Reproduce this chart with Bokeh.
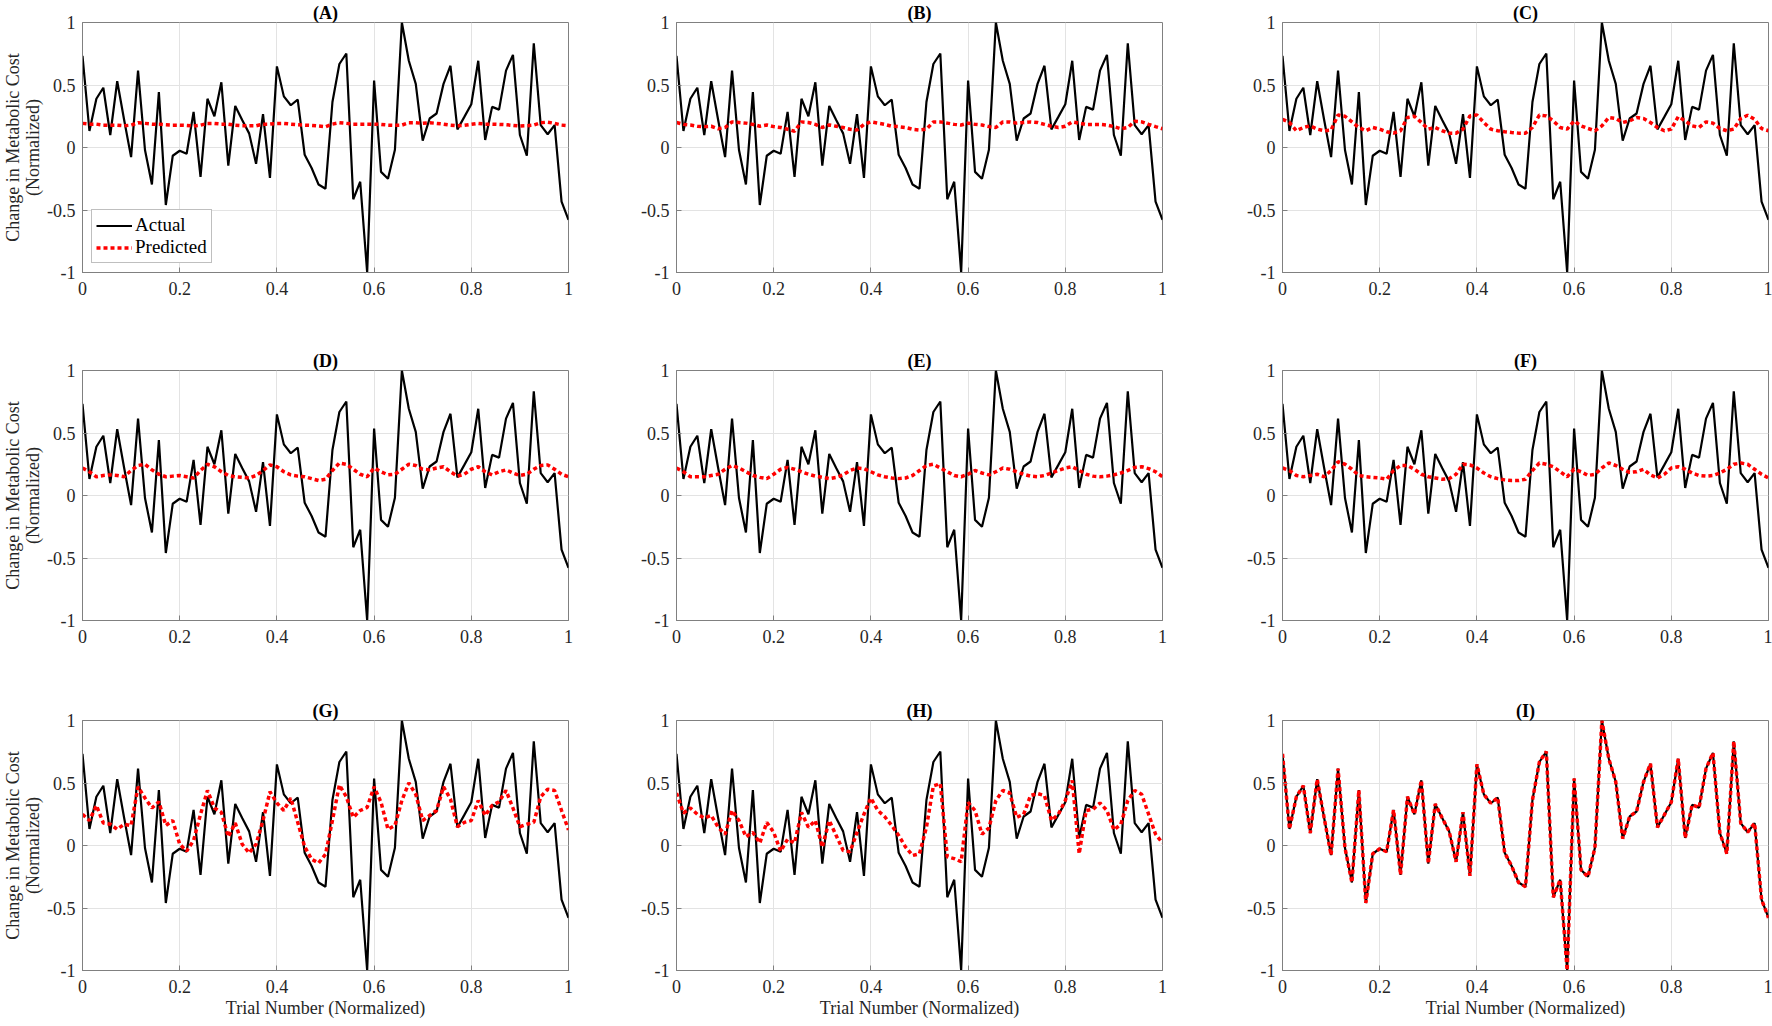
from bokeh.plotting import figure
from bokeh.layouts import row, column
from bokeh.models import FixedTicker, Legend, LegendItem, Range1d, ColumnDataSource
from bokeh.embed import file_html
from bokeh.resources import INLINE

# ---------------- data ----------------
trial_number = list(range(1, 72))

actual = [
    0.733, 0.132, 0.39, 0.478, 0.10, 0.53, 0.22, -0.077, 0.615, -0.02,
    -0.296, 0.443, -0.46, -0.066, -0.026, -0.05, 0.285, -0.235, 0.39, 0.25,
    0.522, -0.145, 0.332, 0.22, 0.113, -0.13, 0.267, -0.243, 0.649, 0.409,
    0.338, 0.383, -0.058, -0.164, -0.296, -0.33, 0.364, 0.668, 0.752, -0.414,
    -0.274, -1.0, 0.536, -0.195, -0.25, -0.018, 1.0, 0.694, 0.509, 0.055,
    0.232, 0.272, 0.509, 0.654, 0.145, 0.245, 0.346, 0.694, 0.06, 0.325,
    0.303, 0.615, 0.741, 0.10, -0.066, 0.834, 0.179, 0.106, 0.179, -0.433,
    -0.578,
]

pred_A = [
    0.193, 0.187, 0.187, 0.179, 0.179, 0.179, 0.174, 0.179, 0.198, 0.193,
    0.187, 0.187, 0.182, 0.179, 0.179, 0.177, 0.172, 0.179, 0.193, 0.193,
    0.187, 0.187, 0.179, 0.174, 0.174, 0.174, 0.187, 0.187, 0.193, 0.193,
    0.187, 0.182, 0.179, 0.177, 0.172, 0.166, 0.187, 0.198, 0.193, 0.187,
    0.187, 0.187, 0.187, 0.185, 0.179, 0.177, 0.179, 0.198, 0.198, 0.193,
    0.198, 0.193, 0.187, 0.179, 0.174, 0.177, 0.185, 0.193, 0.187, 0.187,
    0.185, 0.182, 0.177, 0.172, 0.174, 0.179, 0.198, 0.203, 0.193, 0.179,
    0.174,
]

pred_B = [
    0.20, 0.185, 0.18, 0.17, 0.167, 0.17, 0.15, 0.16, 0.205, 0.20,
    0.195, 0.185, 0.17, 0.18, 0.167, 0.16, 0.146, 0.13, 0.205, 0.20,
    0.185, 0.16, 0.18, 0.17, 0.16, 0.146, 0.14, 0.185, 0.205, 0.195,
    0.185, 0.17, 0.167, 0.16, 0.146, 0.14, 0.146, 0.205, 0.205, 0.195,
    0.185, 0.18, 0.195, 0.185, 0.18, 0.167, 0.16, 0.205, 0.205, 0.195,
    0.20, 0.205, 0.20, 0.185, 0.17, 0.16, 0.17, 0.205, 0.195, 0.185,
    0.185, 0.185, 0.18, 0.167, 0.15, 0.16, 0.21, 0.205, 0.185, 0.167,
    0.15,
]

pred_C = [
    0.226, 0.20, 0.134, 0.16, 0.173, 0.147, 0.134, 0.14, 0.26, 0.25,
    0.205, 0.16, 0.134, 0.16, 0.147, 0.126, 0.115, 0.134, 0.24, 0.25,
    0.20, 0.147, 0.16, 0.134, 0.115, 0.115, 0.147, 0.253, 0.26, 0.20,
    0.147, 0.134, 0.126, 0.12, 0.115, 0.115, 0.16, 0.26, 0.253, 0.213,
    0.16, 0.147, 0.213, 0.173, 0.152, 0.134, 0.173, 0.24, 0.232, 0.20,
    0.213, 0.24, 0.232, 0.20, 0.16, 0.134, 0.147, 0.247, 0.213, 0.173,
    0.16, 0.205, 0.195, 0.152, 0.134, 0.147, 0.232, 0.258, 0.226, 0.152,
    0.134,
]

pred_D = [
    0.22, 0.19, 0.15, 0.16, 0.165, 0.16, 0.15, 0.20, 0.24, 0.25,
    0.205, 0.17, 0.15, 0.155, 0.16, 0.15, 0.14, 0.20, 0.25, 0.23,
    0.19, 0.16, 0.15, 0.145, 0.14, 0.16, 0.20, 0.245, 0.23, 0.19,
    0.165, 0.155, 0.15, 0.135, 0.12, 0.13, 0.20, 0.26, 0.25, 0.21,
    0.17, 0.15, 0.22, 0.19, 0.165, 0.17, 0.21, 0.25, 0.24, 0.21,
    0.205, 0.22, 0.23, 0.19, 0.155, 0.17, 0.21, 0.23, 0.19, 0.165,
    0.19, 0.205, 0.18, 0.16, 0.17, 0.21, 0.24, 0.245, 0.21, 0.17,
    0.15,
]

pred_E = [
    0.22, 0.19, 0.15, 0.15, 0.15, 0.16, 0.17, 0.21, 0.24, 0.22,
    0.19, 0.16, 0.145, 0.135, 0.17, 0.21, 0.225, 0.21, 0.19, 0.17,
    0.155, 0.145, 0.135, 0.145, 0.165, 0.20, 0.22, 0.215, 0.19, 0.165,
    0.15, 0.14, 0.135, 0.14, 0.16, 0.20, 0.24, 0.25, 0.22, 0.19,
    0.16, 0.15, 0.17, 0.20, 0.18, 0.165, 0.19, 0.22, 0.21, 0.19,
    0.17, 0.155, 0.15, 0.16, 0.18, 0.20, 0.22, 0.23, 0.20, 0.17,
    0.155, 0.15, 0.155, 0.165, 0.18, 0.20, 0.225, 0.23, 0.215, 0.19,
    0.15,
]

pred_F = [
    0.22, 0.20, 0.16, 0.15, 0.16, 0.17, 0.15, 0.20, 0.27, 0.25,
    0.21, 0.16, 0.15, 0.145, 0.14, 0.13, 0.20, 0.24, 0.24, 0.21,
    0.17, 0.15, 0.14, 0.13, 0.135, 0.17, 0.25, 0.245, 0.22, 0.18,
    0.15, 0.135, 0.125, 0.12, 0.12, 0.13, 0.20, 0.26, 0.25, 0.23,
    0.19, 0.15, 0.21, 0.19, 0.16, 0.17, 0.22, 0.26, 0.24, 0.21,
    0.185, 0.19, 0.21, 0.165, 0.14, 0.17, 0.22, 0.23, 0.21, 0.18,
    0.16, 0.155, 0.16, 0.18, 0.21, 0.25, 0.26, 0.25, 0.21, 0.17,
    0.14,
]

pred_G = [
    0.25, 0.20, 0.32, 0.18, 0.17, 0.13, 0.17, 0.16, 0.47, 0.38,
    0.30, 0.35, 0.16, 0.20, 0.01, -0.045, 0.04, 0.25, 0.44, 0.30,
    0.265, 0.07, 0.18, 0.01, -0.06, 0.01, 0.20, 0.43, 0.34, 0.28,
    0.38, 0.185, -0.01, -0.11, -0.14, -0.07, 0.20, 0.485, 0.39, 0.225,
    0.28, 0.305, 0.47, 0.345, 0.13, 0.16, 0.36, 0.50, 0.41, 0.20,
    0.24, 0.28, 0.47, 0.37, 0.15, 0.185, 0.20, 0.36, 0.24, 0.32,
    0.35, 0.44, 0.30, 0.15, 0.17, 0.185, 0.39, 0.45, 0.44, 0.28,
    0.125,
]

pred_H = [
    0.42, 0.26, 0.30, 0.25, 0.22, 0.24, 0.146, 0.09, 0.28, 0.20,
    0.07, 0.105, 0.02, 0.185, 0.105, -0.045, 0.05, 0.02, 0.265, 0.146,
    0.20, -0.013, 0.20, 0.08, -0.04, -0.05, 0.105, 0.25, 0.38, 0.28,
    0.23, 0.16, 0.08, -0.013, -0.08, -0.066, 0.146, 0.477, 0.495, -0.09,
    -0.105, -0.13, 0.345, 0.28, 0.09, 0.14, 0.36, 0.44, 0.42, 0.225,
    0.25, 0.40, 0.415, 0.40, 0.20, 0.25, 0.36, 0.52, -0.066, 0.28,
    0.29, 0.34, 0.28, 0.125, 0.17, 0.36, 0.44, 0.41, 0.25, 0.09,
    0.02,
]

pred_I = [
    0.733, 0.132, 0.39, 0.478, 0.10, 0.53, 0.22, -0.077, 0.615, -0.02,
    -0.296, 0.443, -0.46, -0.066, -0.026, -0.05, 0.285, -0.235, 0.39, 0.25,
    0.522, -0.145, 0.332, 0.22, 0.113, -0.13, 0.267, -0.243, 0.649, 0.409,
    0.338, 0.383, -0.058, -0.164, -0.296, -0.33, 0.364, 0.668, 0.752, -0.414,
    -0.274, -1.0, 0.536, -0.195, -0.25, -0.018, 1.0, 0.694, 0.509, 0.055,
    0.232, 0.272, 0.509, 0.654, 0.145, 0.245, 0.346, 0.694, 0.06, 0.325,
    0.303, 0.615, 0.741, 0.10, -0.066, 0.834, 0.179, 0.106, 0.179, -0.433,
    -0.578,
]

panel_titles = ["(A)", "(B)", "(C)", "(D)", "(E)", "(F)", "(G)", "(H)", "(I)"]
x_ticks = [0, 0.2, 0.4, 0.6, 0.8, 1]
x_tick_labels = ["0", "0.2", "0.4", "0.6", "0.8", "1"]
y_ticks = [-1, -0.5, 0, 0.5, 1]
y_tick_labels = ["-1", "-0.5", "0", "0.5", "1"]
x_axis_title = "Trial Number (Normalized)"
y_axis_title = "Change in Metabolic Cost\n(Normalized)"
legend_labels = ["Actual", "Predicted"]

predictions = [pred_A, pred_B, pred_C, pred_D, pred_E, pred_F, pred_G, pred_H, pred_I]

# normalized trial number (0..1)
x_norm = [(t - trial_number[0]) / (trial_number[-1] - trial_number[0]) for t in trial_number]

# ---------------- styling ----------------
FONT = "Liberation Serif"
GREY = "#808080"
GRID = "#e3e3e3"
FW, FH = 486, 250
LEFT = [80, 60, 60]
RIGHT = [48, 60, 4]
TOP = [21, 21, 21]
BOTTOM = [76, 78, 53]


def make_panel(k):
    r, c = divmod(k, 3)
    p = figure(
        frame_width=FW, frame_height=FH,
        x_range=Range1d(0, 1), y_range=Range1d(-1, 1),
        output_backend="svg", toolbar_location=None,
        min_border_left=LEFT[c], min_border_right=RIGHT[c],
        min_border_top=TOP[r], min_border_bottom=BOTTOM[r],
        background_fill_color="white", border_fill_color="white",
        outline_line_color=GREY, outline_line_width=1,
    )
    p.title.text = panel_titles[k]
    p.title.align = "center"
    p.title.text_font = FONT
    p.title.text_font_size = "18px"
    p.title.text_font_style = "bold"
    p.title.text_color = "black"
    p.title.standoff = 0

    p.xaxis.ticker = FixedTicker(ticks=x_ticks)
    p.yaxis.ticker = FixedTicker(ticks=y_ticks)
    p.xaxis.major_label_overrides = dict(zip(x_ticks, x_tick_labels))
    p.yaxis.major_label_overrides = dict(zip(y_ticks, y_tick_labels))
    for ax in (p.xaxis, p.yaxis):
        ax.axis_line_color = GREY
        ax.major_tick_line_color = GREY
        ax.major_tick_in = 5
        ax.major_tick_out = 0
        ax.minor_tick_line_color = None
        ax.major_label_text_font = FONT
        ax.major_label_text_font_size = "18px"
        ax.major_label_text_color = "#262626"
        ax.axis_label_text_font = FONT
        ax.axis_label_text_font_size = "18px"
        ax.axis_label_text_font_style = "normal"
        ax.axis_label_text_color = "#262626"
        ax.axis_label_text_line_height = 1.0
    p.xaxis.major_label_standoff = 9
    p.yaxis.major_label_standoff = 7
    p.xaxis.axis_label_standoff = 2
    p.yaxis.axis_label_standoff = 1

    p.xgrid.grid_line_color = GRID
    p.ygrid.grid_line_color = GRID

    if c == 0:
        p.yaxis.axis_label = y_axis_title
    if r == 2:
        p.xaxis.axis_label = x_axis_title

    src = ColumnDataSource(dict(x=x_norm, actual=actual, pred=predictions[k]))
    r_act = p.line("x", "actual", source=src, line_color="black", line_width=2.2)
    r_pred = p.line("x", "pred", source=src, line_color="#ff0000", line_width=3.5,
                    line_dash="4 3")

    if k == 0:
        legend = Legend(
            items=[LegendItem(label=legend_labels[0], renderers=[r_act]),
                   LegendItem(label=legend_labels[1], renderers=[r_pred])],
            location="bottom_left",
        )
        legend.label_text_font = FONT
        legend.label_text_font_size = "19px"
        legend.label_text_color = "black"
        legend.glyph_width = 36
        legend.glyph_height = 21
        legend.label_standoff = 3
        legend.label_height = 21
        legend.spacing = 0
        legend.padding = 4
        legend.margin = 9
        legend.border_line_color = GREY
        legend.border_line_width = 1
        legend.background_fill_color = "white"
        legend.background_fill_alpha = 1.0
        p.add_layout(legend)
    return p


panels = [make_panel(k) for k in range(9)]
layout = column(
    row(panels[0], panels[1], panels[2]),
    row(panels[3], panels[4], panels[5]),
    row(panels[6], panels[7], panels[8]),
)

open("out.html", "w").write(file_html(layout, INLINE))
